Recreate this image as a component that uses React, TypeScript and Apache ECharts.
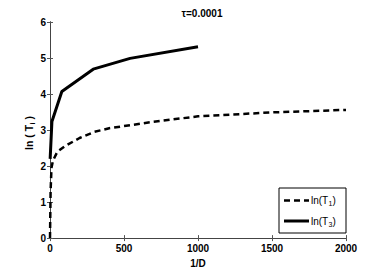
import React, { useEffect, useRef } from "react";
import * as echarts from "echarts";

const titleText = "τ=0.0001";
const xTicks = [0, 500, 1000, 1500, 2000];
const yTicks = [0, 1, 2, 3, 4, 5, 6];

const t1X = [0, 4, 10, 20, 50, 100, 200, 300, 400, 500, 700, 1000, 1500, 2000];
const t1Y = [0, 1.3, 1.95, 2.15, 2.4, 2.55, 2.78, 2.95, 3.05, 3.11, 3.23, 3.38, 3.49, 3.56];

const t3X = [1, 13, 80, 292, 541, 1000];
const t3Y = [2.2, 3.24, 4.07, 4.69, 4.99, 5.31];

const FONT = "Liberation Sans, Arial, Helvetica, sans-serif";

export default function App() {
  const ref = useRef<HTMLDivElement>(null);
  useEffect(() => {
    const chart = echarts.init(ref.current!, null, { renderer: "svg" });
    const axisLabel = {
      fontFamily: FONT,
      fontWeight: "bold" as const,
      fontSize: 10,
      color: "#000",
      formatter: (v: number) => String(v),
    };
    chart.setOption({
      animation: false,
      backgroundColor: "#fff",
      title: {
        text: titleText,
        left: 197,
        top: 3,
        textAlign: "center",
        textStyle: { fontFamily: FONT, fontWeight: "bold", fontSize: 10, color: "#000" },
      },
      grid: { left: 50, right: 36, top: 22, bottom: 30, show: false },
      xAxis: [
        {
          type: "value",
          min: xTicks[0],
          max: xTicks[xTicks.length - 1],
          interval: 500,
          axisLine: { show: true, lineStyle: { color: "#000", width: 1 } },
          axisTick: { show: true, inside: true, length: 3, lineStyle: { color: "#555" } },
          axisLabel: { ...axisLabel, margin: 5 },
          splitLine: { show: false },
          name: "1/D",
          nameLocation: "middle",
          nameGap: 18,
          nameTextStyle: { fontFamily: FONT, fontWeight: "bold", fontSize: 10, color: "#000" },
        },
        {
          type: "value",
          position: "top",
          min: xTicks[0],
          max: xTicks[xTicks.length - 1],
          interval: 500,
          axisLine: { show: true, lineStyle: { color: "#444", width: 1 } },
          axisTick: { show: true, inside: true, length: 3, lineStyle: { color: "#555" } },
          axisLabel: { show: false },
          splitLine: { show: false },
        },
      ],
      yAxis: [
        {
          type: "value",
          min: yTicks[0],
          max: yTicks[yTicks.length - 1],
          interval: 1,
          axisLine: { show: true, lineStyle: { color: "#000", width: 1 } },
          axisTick: { show: true, inside: true, length: 3, lineStyle: { color: "#555" } },
          axisLabel: { ...axisLabel, margin: 4 },
          splitLine: { show: false },
        },
        {
          type: "value",
          position: "right",
          min: yTicks[0],
          max: yTicks[yTicks.length - 1],
          interval: 1,
          axisLine: { show: true, lineStyle: { color: "#444", width: 1 } },
          axisTick: { show: true, inside: true, length: 3, lineStyle: { color: "#555" } },
          axisLabel: { show: false },
          splitLine: { show: false },
        },
      ],
      series: [
        {
          name: "ln(T1)",
          type: "line",
          symbol: "none",
          data: t1X.map((x, i) => [x, t1Y[i]]),
          lineStyle: { color: "#000", width: 2.5, type: [6, 4] },
        },
        {
          name: "ln(T3)",
          type: "line",
          symbol: "none",
          data: t3X.map((x, i) => [x, t3Y[i]]),
          lineStyle: { color: "#000", width: 3 },
        },
      ],
      graphic: [
        {
          type: "group",
          x: 29,
          y: 132,
          rotation: Math.PI / 2,
          children: [
            { type: "text", x: -18, y: 0, style: { text: "ln ( T", font: `bold 10.5px ${FONT}`, fill: "#000", verticalAlign: "middle", align: "left" } },
            { type: "text", x: 7.5, y: 3, style: { text: "i", font: `bold 7px ${FONT}`, fill: "#000", verticalAlign: "middle", align: "left" } },
            { type: "text", x: 9.5, y: 0, style: { text: " )", font: `bold 10.5px ${FONT}`, fill: "#000", verticalAlign: "middle", align: "left" } },
          ],
        },
        {
          type: "rect",
          shape: { x: 279, y: 188, width: 67, height: 45 },
          style: { fill: "#fff", stroke: "#000", lineWidth: 1 },
        },
        { type: "line", shape: { x1: 284, y1: 200.5, x2: 309, y2: 200.5 }, style: { stroke: "#000", lineWidth: 2.5, lineDash: [6, 4] } },
        { type: "line", shape: { x1: 284, y1: 221, x2: 309, y2: 221 }, style: { stroke: "#000", lineWidth: 3 } },
        { type: "text", x: 311, y: 200, style: { text: "ln(T", font: `10px ${FONT}`, fill: "#000", verticalAlign: "middle" } },
        { type: "text", x: 328.5, y: 203.5, style: { text: "1", font: `7px ${FONT}`, fill: "#000", verticalAlign: "middle" } },
        { type: "text", x: 332.5, y: 200, style: { text: ")", font: `10px ${FONT}`, fill: "#000", verticalAlign: "middle" } },
        { type: "text", x: 311, y: 221, style: { text: "ln(T", font: `10px ${FONT}`, fill: "#000", verticalAlign: "middle" } },
        { type: "text", x: 328.5, y: 224.5, style: { text: "3", font: `7px ${FONT}`, fill: "#000", verticalAlign: "middle" } },
        { type: "text", x: 332.5, y: 221, style: { text: ")", font: `10px ${FONT}`, fill: "#000", verticalAlign: "middle" } },
      ],
    });
    return () => chart.dispose();
  }, []);
  return <div ref={ref} style={{ width: 382, height: 273, position: "absolute", left: 0, top: 0 }} />;
}
